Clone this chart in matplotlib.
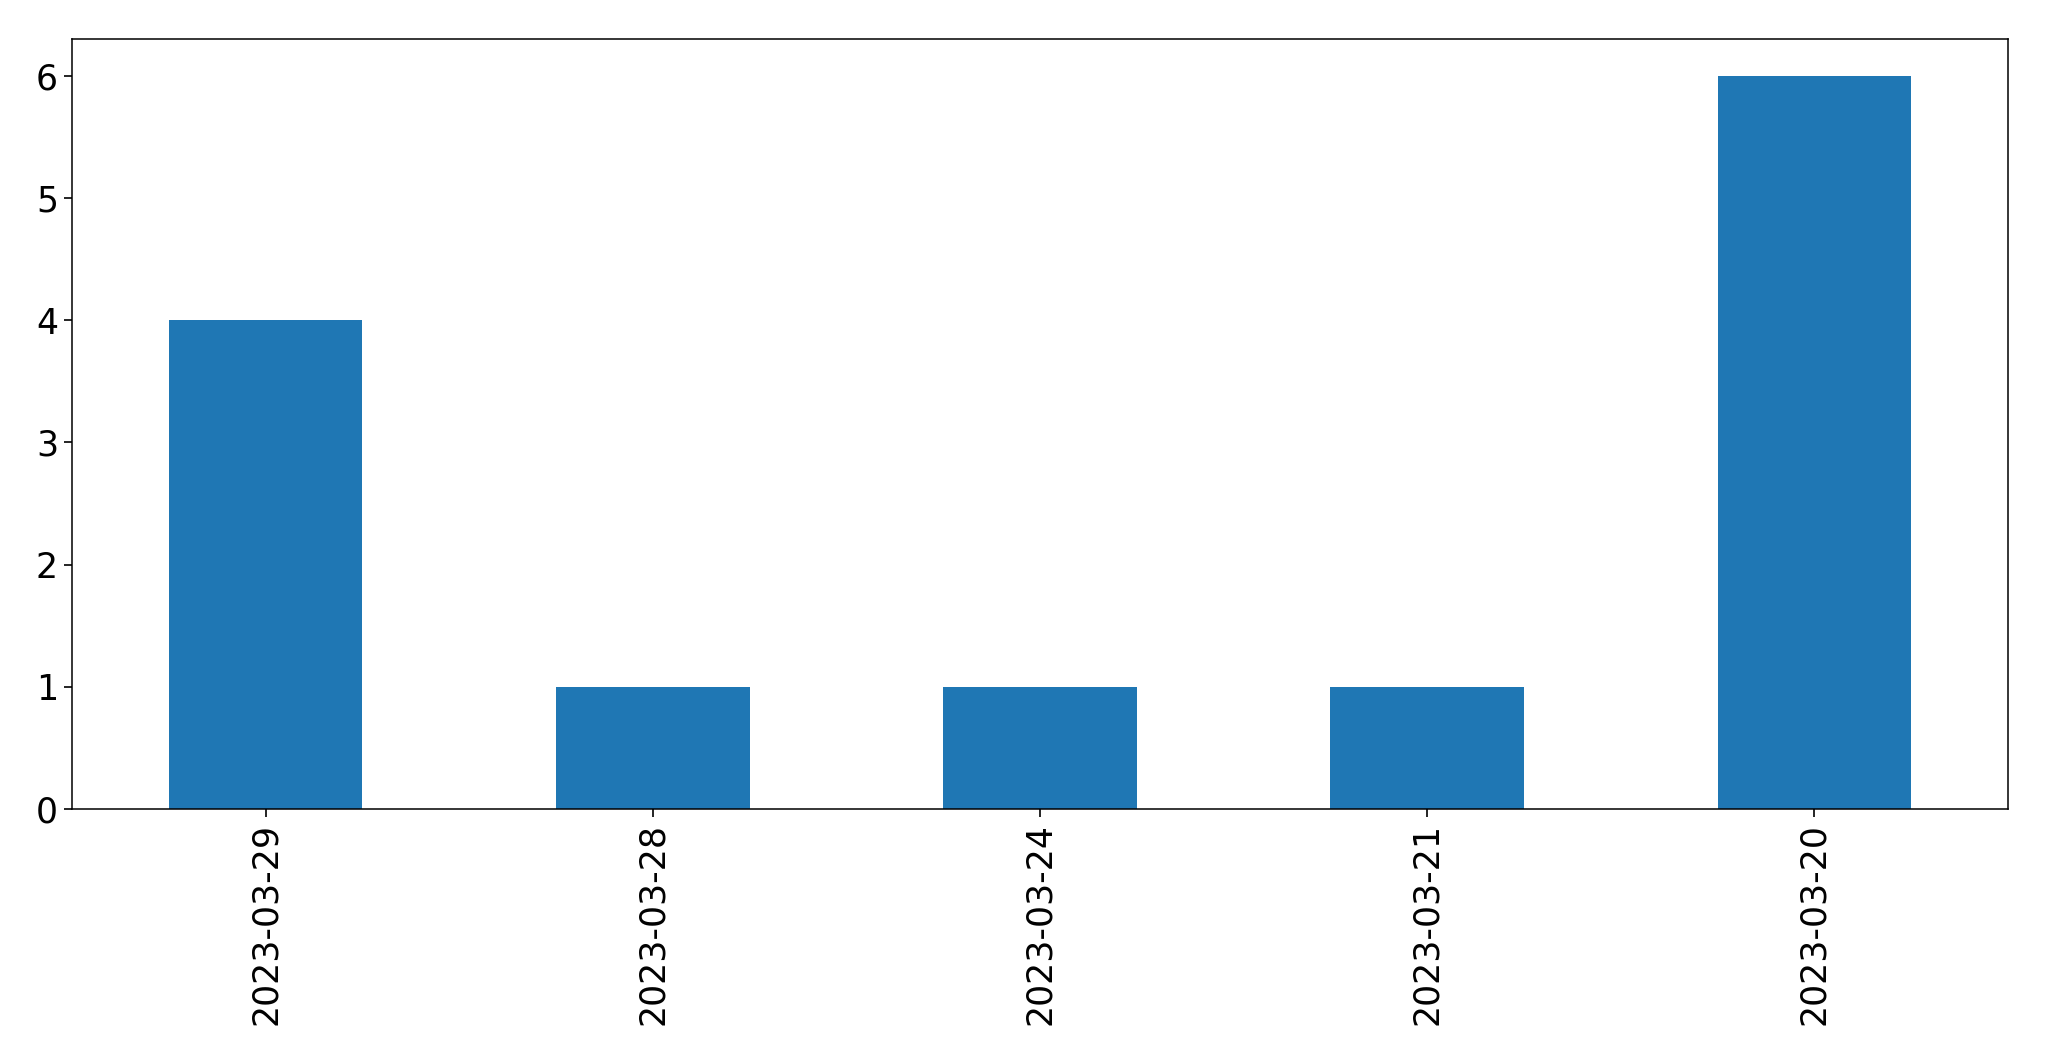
import matplotlib
matplotlib.use("Agg")
import matplotlib.pyplot as plt
import pandas as pd

dates = ["2023-03-29", "2023-03-28", "2023-03-24", "2023-03-21", "2023-03-20"]
counts = [4, 1, 1, 1, 6]

series = pd.Series(counts, index=dates)

fig = plt.figure(figsize=(20.49, 10.61), dpi=100)
ax = fig.add_axes([72 / 2049, 1 - 809 / 1061, (2008 - 72) / 2049, (809 - 39) / 1061])
series.plot(kind="bar", ax=ax, color="#1f77b4")
ax.tick_params(axis="both", labelsize=25, length=6, width=1.2, pad=4)
for s in ax.spines.values():
    s.set_linewidth(1.1)
ax.set_xlim(-0.5, 4.5)
ax.set_ylim(0, 6.3)

fig.savefig("out.png", dpi=100)
